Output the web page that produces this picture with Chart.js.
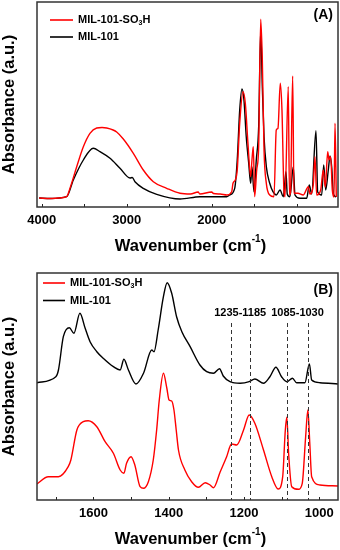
<!DOCTYPE html>
<html>
<head>
<meta charset="utf-8">
<script src="https://cdn.jsdelivr.net/npm/chart.js@4"></script>
<style>
  body { margin: 0; background: #fff; }
  canvas { position: absolute; left: 0; }
  #chartA { top: 0; }
  #chartB { top: 265px; }
</style>
</head>
<body>
<canvas id="chartA" width="340" height="265"></canvas>
<canvas id="chartB" width="340" height="285"></canvas>
<script>
const FONT = '"Liberation Sans", Arial, sans-serif';
const RED = '#ff0000';
const names = ['MIL-101-SO₃H', 'MIL-101'];

// panel A - full range
const aTicks = [4000, 3000, 2000, 1000];
const aMarks = [4000, 3500, 3000, 2500, 2000, 1500, 1000];
const aRedWn = [4030, 3900, 3800, 3706, 3667, 3588, 3510, 3432, 3353, 3290, 3235, 3160, 3118, 3040, 2922, 2805, 2687, 2530, 2373, 2250, 2160, 2140, 2000, 1980, 1900, 1824, 1765, 1750, 1723, 1700, 1671, 1632, 1605, 1574, 1542, 1527, 1511, 1495, 1471, 1448, 1424, 1405, 1385, 1358, 1318, 1268, 1241, 1221, 1194, 1174, 1150, 1138, 1100, 1086, 1074, 1048, 1033, 986, 923, 864, 845, 806, 786, 766, 719, 688, 664, 636, 621, 601, 582, 562, 550, 535];
const aRedAbs = [9, 8.5, 9, 10.3, 18.7, 40.3, 60.3, 73.7, 79, 79.5, 79, 77, 75, 68, 53.7, 37, 25.3, 18.7, 13.7, 13, 15, 13, 15, 13.5, 13, 12, 15.3, 23.7, 27, 37, 83.7, 115.3, 103.7, 63.7, 30.3, 47, 60.3, 10.3, 37, 60.3, 187.7, 147, 57, 23.7, 12, 10.3, 77, 78.7, 123.7, 97, 15, 10.3, 120.3, 12, 14, 131, 14, 13.7, 12, 20.3, 13, 22, 50.3, 12, 17, 37, 20, 55.3, 47, 50.3, 17, 10, 83.7, 10];
const aBlkWn = [4030, 3900, 3706, 3628, 3510, 3393, 3314, 3196, 3079, 2961, 2935, 2900, 2805, 2647, 2373, 2138, 1824, 1790, 1730, 1700, 1671, 1644, 1621, 1594, 1565, 1542, 1527, 1503, 1476, 1448, 1424, 1405, 1385, 1358, 1318, 1280, 1241, 1197, 1158, 1127, 1112, 1080, 1041, 1021, 962, 883, 853, 825, 774, 754, 707, 683, 660, 629, 609, 589, 570, 539];
const aBlkAbs = [9, 8.5, 10.3, 27, 47, 58.7, 55.3, 48.7, 38.7, 29, 29.5, 25, 18.7, 12.7, 8, 10.3, 10.3, 12, 18.7, 47, 97, 118, 107, 70.3, 43.7, 23.7, 40.3, 15.3, 47, 80.3, 177, 120.3, 70.3, 40.3, 23.7, 15.3, 12, 17, 10.3, 35.3, 13, 10.3, 40.3, 12, 8.7, 8.7, 22, 13, 76.3, 15, 12, 42, 17, 37, 51, 40, 13.7, 10];

// panel B - zoomed range
const bTicks = [1600, 1400, 1200, 1000];
const bMarks = [1700, 1600, 1500, 1400, 1300, 1200, 1100, 1000];
const bGuides = [1235, 1185, 1085, 1030];
const bGuideLabels = ['1235-1185', '1085-1030'];
const bRedWn = [1750, 1720, 1693, 1667, 1660, 1644, 1627, 1614, 1591, 1569, 1547, 1529, 1519, 1512, 1500, 1490, 1476, 1467, 1454, 1441, 1432, 1425, 1414, 1405, 1399, 1392, 1386, 1380, 1374, 1357, 1339, 1321, 1303, 1290, 1281, 1263, 1246, 1233, 1219, 1201, 1186, 1171, 1148, 1126, 1109, 1097, 1090, 1086, 1081, 1073, 1055, 1045, 1036, 1030, 1025, 1020, 998, 950];
const bRedAbs = [16, 23.3, 23.3, 33.3, 40, 70, 78.3, 79.3, 73.3, 58.3, 46.7, 30, 26.7, 36.7, 43.3, 35, 13.3, 11.7, 18.3, 40, 70, 100, 126.7, 112, 100, 99, 90, 70, 50, 30, 18.3, 12.7, 17.3, 15, 12.3, 28.3, 43.3, 56, 55, 70, 85, 76.7, 50, 23.3, 11, 23.3, 70, 82.7, 45, 13.3, 10.7, 16.7, 63.3, 90, 56.7, 23.3, 15, 14];
const bBlkWn = [1750, 1700, 1693, 1680, 1664, 1652, 1636, 1622, 1609, 1591, 1574, 1547, 1529, 1519, 1507, 1487, 1467, 1445, 1439, 1428, 1414, 1404, 1392, 1379, 1365, 1343, 1317, 1299, 1281, 1265, 1255, 1237, 1210, 1186, 1171, 1148, 1131, 1115, 1100, 1086, 1071, 1060, 1038, 1026, 1020, 998, 950];
const bBlkAbs = [117.3, 123.3, 130, 163.3, 172.3, 166.7, 186.7, 171.7, 158.3, 148.3, 141.7, 133.3, 130, 140.7, 130, 116, 126.7, 150, 148.3, 170, 203.3, 217.3, 206.7, 183.3, 168.3, 153.3, 135, 128.3, 126.7, 131.3, 124, 118.3, 116.7, 118.3, 121, 116.7, 123.3, 132.7, 123.3, 118.3, 121.7, 117.3, 117.3, 136, 120, 117.3, 116];

const pts = (xs, ys) => xs.map((x, i) => ({ x: x, y: ys[i] }));

function drawSub(ctx, text, x, y, size) {
  // draws "SO₃H" style text with a real subscript
  const parts = text.split('₃');
  ctx.font = 'bold ' + size + 'px ' + FONT;
  ctx.fillText(parts[0], x, y);
  if (parts.length > 1) {
    let w = ctx.measureText(parts[0]).width;
    ctx.font = 'bold ' + Math.round(size * 0.65) + 'px ' + FONT;
    ctx.fillText('3', x + w, y + size * 0.3);
    w += ctx.measureText('3').width;
    ctx.font = 'bold ' + size + 'px ' + FONT;
    ctx.fillText(parts[1], x + w, y);
  }
}

function makeFrame(f) {
  return {
    id: 'frame',
    afterDraw(chart) {
      const { ctx, chartArea: a } = chart;
      const x = chart.scales.x;
      ctx.save();
      // dashed guide lines with their range labels
      if (f.guides) {
        ctx.strokeStyle = '#333';
        ctx.lineWidth = 1;
        ctx.setLineDash([4, 3]);
        f.guides.forEach(v => {
          const px = Math.round(x.getPixelForValue(v)) + 0.5;
          ctx.beginPath();
          ctx.moveTo(px, f.guideTop);
          ctx.lineTo(px, a.bottom);
          ctx.stroke();
        });
        ctx.setLineDash([]);
        ctx.fillStyle = '#000';
        ctx.font = 'bold 11px ' + FONT;
        ctx.textAlign = 'center';
        ctx.textBaseline = 'middle';
        f.guideLabels.forEach((t, i) => {
          const cx = (x.getPixelForValue(f.guides[i * 2]) + x.getPixelForValue(f.guides[i * 2 + 1])) / 2;
          ctx.fillText(t, cx, f.guideLabelY);
        });
      }
      // inward tick marks
      ctx.strokeStyle = '#222';
      ctx.lineWidth = 1;
      f.marks.forEach(v => {
        const px = Math.round(x.getPixelForValue(v)) + 0.5;
        ctx.beginPath();
        ctx.moveTo(px, a.bottom);
        ctx.lineTo(px, a.bottom - 3);
        ctx.stroke();
      });
      // box
      ctx.strokeStyle = '#333';
      ctx.lineWidth = 1.5;
      ctx.strokeRect(a.left, a.top, a.right - a.left, a.bottom - a.top);
      // panel letter
      ctx.fillStyle = '#000';
      ctx.textAlign = 'right';
      ctx.textBaseline = 'middle';
      ctx.font = 'bold 14px ' + FONT;
      ctx.fillText(f.letter, a.right - 5, f.letterY);
      // legend
      ctx.textAlign = 'left';
      chart.data.datasets.forEach((d, i) => {
        const y = f.legY + i * f.legGap;
        ctx.strokeStyle = d.borderColor;
        ctx.lineWidth = 1.6;
        ctx.beginPath();
        ctx.moveTo(f.legX, y);
        ctx.lineTo(f.legX + f.legLen, y);
        ctx.stroke();
        ctx.fillStyle = '#000';
        drawSub(ctx, d.label, f.legX + f.legLen + 5, y, 11);
      });
      // x title with superscript
      ctx.textBaseline = 'middle';
      const t1 = 'Wavenumber (cm', t3 = ')';
      ctx.font = 'bold 16.5px ' + FONT;
      const w1 = ctx.measureText(t1).width, w3 = ctx.measureText(t3).width;
      ctx.font = 'bold 10px ' + FONT;
      const w2 = ctx.measureText('-1').width;
      const sx = (a.left + a.right) / 2 - (w1 + w2 + w3) / 2 + 3;
      ctx.font = 'bold 16.5px ' + FONT;
      ctx.fillText(t1, sx, f.titleY);
      ctx.font = 'bold 10px ' + FONT;
      ctx.fillText('-1', sx + w1, f.titleY - 7);
      ctx.font = 'bold 16.5px ' + FONT;
      ctx.fillText(t3, sx + w1 + w2, f.titleY);
      ctx.restore();
    }
  };
}

function makeChart(id, c) {
  return new Chart(document.getElementById(id), {
    type: 'line',
    data: {
      datasets: [
        { label: names[0], data: pts(c.redWn, c.redAbs), borderColor: RED, borderWidth: 1.4 },
        { label: names[1], data: pts(c.blkWn, c.blkAbs), borderColor: '#000', borderWidth: 1.4 }
      ]
    },
    options: {
      responsive: false,
      animation: false,
      events: [],
      elements: { point: { radius: 0 }, line: { cubicInterpolationMode: 'monotone' } },
      layout: { padding: { top: c.padTop, right: 2, left: 0, bottom: 0 } },
      scales: {
        x: {
          type: 'linear',
          reverse: true,
          min: c.xmin,
          max: c.xmax,
          grid: { display: false, drawTicks: false },
          border: { display: false },
          afterBuildTicks: s => { s.ticks = c.ticks.map(v => ({ value: v })); },
          afterFit: s => { s.height = c.xHeight; },
          ticks: {
            padding: c.tickPad,
            color: '#000',
            maxRotation: 0,
            font: { family: FONT, size: 13, weight: 'bold' },
            callback: v => String(v)
          }
        },
        y: {
          min: 0,
          max: c.ymax,
          grid: { display: false, drawTicks: false },
          border: { display: false },
          ticks: { display: false },
          afterFit: s => { s.width = 37; },
          title: {
            display: true,
            text: 'Absorbance (a.u.)',
            color: '#000',
            padding: 0,
            font: { family: FONT, size: 16.5, weight: 'bold' }
          }
        }
      },
      plugins: {
        legend: { display: false },
        tooltip: { enabled: false }
      }
    },
    plugins: [makeFrame(c.frame)]
  });
}

makeChart('chartA', {
  redWn: aRedWn, redAbs: aRedAbs, blkWn: aBlkWn, blkAbs: aBlkAbs,
  ticks: aTicks, xmin: 515, xmax: 4055, ymax: 205,
  padTop: 2, xHeight: 58, tickPad: 6,
  frame: { marks: aMarks, letter: '(A)', letterY: 15, legX: 50, legLen: 23, legY: 20, legGap: 17, titleY: 246.5 }
});

makeChart('chartB', {
  redWn: bRedWn, redAbs: bRedAbs, blkWn: bBlkWn, blkAbs: bBlkAbs,
  ticks: bTicks, xmin: 950, xmax: 1750, ymax: 227,
  padTop: 8, xHeight: 50, tickPad: 6,
  frame: { marks: bMarks, letter: '(B)', letterY: 25.5, legX: 43, legLen: 22, legY: 18, legGap: 17.5, titleY: 274,
           guides: bGuides, guideLabels: bGuideLabels, guideTop: 58, guideLabelY: 48 }
});
</script>
</body>
</html>
